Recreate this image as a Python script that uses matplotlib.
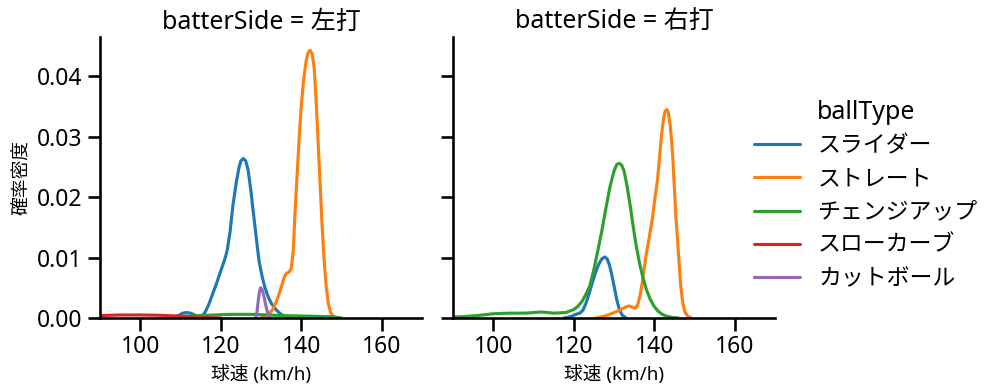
#!/usr/bin/env python3
"""Pitch speed density by batter side (KDE curves read off the reference)."""

import matplotlib
matplotlib.use("Agg")
import matplotlib.pyplot as plt
import seaborn as sns

sns.set_theme(context="talk", style="ticks")
plt.rcParams["font.family"] = ["Noto Sans", "Noto Sans CJK JP", "DejaVu Sans"]
for key in ["axes.edgecolor", "xtick.color", "ytick.color", "text.color", "axes.labelcolor"]:
    plt.rcParams[key] = "black"

BALL_TYPES = ["スライダー", "ストレート", "チェンジアップ", "スローカーブ", "カットボール"]
COLORS = ["#1f77b4", "#ff7f0e", "#2ca02c", "#d62728", "#9467bd"]
SIDES = ["左打", "右打"]

# --- 左打 ---
left_slider_x = [106, 108, 109.5, 110.5, 111.5, 112.5, 113.5, 114.5, 115, 116, 117, 118, 119,
                 120, 121, 121.6, 122.3, 123, 123.8, 124.5, 125, 125.6, 126.2, 126.8, 127.5,
                 128, 128.7, 129.5, 130.3, 131, 131.8, 132.5, 133.3, 134, 135, 136, 137, 138]
left_slider_y = [0, 0.0001, 0.0004, 0.0008, 0.0009, 0.0008, 0.0005, 0.0002, 0.0002, 0.0008,
                 0.0022, 0.0040, 0.0058, 0.0078, 0.0097, 0.0112, 0.0142, 0.0185, 0.0222,
                 0.0248, 0.0260, 0.0264, 0.0260, 0.0245, 0.0210, 0.0180, 0.0140, 0.0095,
                 0.0068, 0.0050, 0.0035, 0.0025, 0.0017, 0.0012, 0.0006, 0.0003, 0.0001, 0]
left_straight_x = [130, 131, 132, 133, 134, 135, 135.8, 136.3, 137, 137.5, 138, 138.5, 139,
                   139.5, 140, 140.6, 141.2, 141.7, 142.2, 142.7, 143.2, 143.7, 144.2, 144.7,
                   145.2, 145.7, 146.2, 146.7, 147.3, 148, 148.5]
left_straight_y = [0, 0.0002, 0.0007, 0.0015, 0.0030, 0.0050, 0.0068, 0.0074, 0.0076, 0.0082,
                   0.0110, 0.0180, 0.0240, 0.0300, 0.0350, 0.0395, 0.0425, 0.0439, 0.0443,
                   0.0437, 0.0415, 0.0360, 0.0290, 0.0220, 0.0150, 0.0095, 0.0052, 0.0025,
                   0.0009, 0.0002, 0]
left_change_x = [105, 108, 115, 122, 128, 135, 142, 148, 150]
left_change_y = [0, 0.0002, 0.0004, 0.0006, 0.0006, 0.0004, 0.0003, 0.0002, 0]
left_curve_x = [80, 90, 95, 100, 105, 110, 115, 120]
left_curve_y = [0.0003, 0.0004, 0.0005, 0.0005, 0.00045, 0.0003, 0.0001, 0]
left_cutter_x = [128.7, 129.0, 129.3, 129.6, 129.9, 130.2, 130.6, 131.0, 131.4, 131.8, 132.3]
left_cutter_y = [0, 0.0010, 0.0028, 0.0043, 0.0050, 0.0048, 0.0040, 0.0027, 0.0015, 0.0006, 0]

# --- 右打 ---
right_slider_x = [117.5, 118.5, 119.5, 120.5, 121.5, 122.3, 123, 123.8, 124.6, 125.4, 126.2,
                  127, 127.7, 128.3, 128.9, 129.5, 130.1, 130.7, 131.3, 132, 133]
right_slider_y = [0, 0.0001, 0.0003, 0.0006, 0.0008, 0.0013, 0.0024, 0.0040, 0.0058, 0.0075,
                  0.0089, 0.0098, 0.0101, 0.0098, 0.0087, 0.0070, 0.0050, 0.0030, 0.0015,
                  0.0005, 0]
right_straight_x = [125.5, 127, 128.5, 130, 131.5, 132.8, 133.8, 134.6, 135.3, 135.9, 136.5,
                    137, 137.5, 138, 138.8, 139.6, 140.3, 140.8, 141.3, 141.8, 142.3, 142.7,
                    143.1, 143.5, 143.9, 144.3, 144.6, 145.0, 145.4, 145.8, 146.2, 146.6,
                    147.1, 147.6, 148.3, 149.2]
right_straight_y = [0, 0.0002, 0.0005, 0.0009, 0.0013, 0.0018, 0.0020, 0.0018, 0.0016, 0.0022,
                    0.0038, 0.0058, 0.0082, 0.0105, 0.0135, 0.0167, 0.0205, 0.0228, 0.0265,
                    0.0302, 0.0330, 0.0342, 0.0345, 0.0340, 0.0322, 0.0295, 0.0267, 0.0215,
                    0.0165, 0.0129, 0.0088, 0.0052, 0.0025, 0.0010, 0.0003, 0]
right_change_x = [88, 92, 96, 100, 104, 108, 112, 115, 118, 120, 121, 122, 123, 124, 125, 126,
                  127, 128, 129, 130, 130.7, 131.3, 131.9, 132.5, 133.2, 134, 134.8, 135.5,
                  136.3, 137, 138, 139, 140, 141, 142, 143, 144.5, 146]
right_change_y = [0.0002, 0.0002, 0.0004, 0.0007, 0.0008, 0.0008, 0.0010, 0.0008, 0.0009,
                  0.0014, 0.0019, 0.0027, 0.0039, 0.0053, 0.0080, 0.0112, 0.0145, 0.0182,
                  0.0217, 0.0243, 0.0254, 0.0256, 0.0253, 0.0243, 0.0220, 0.0187, 0.0150,
                  0.0120, 0.0092, 0.0072, 0.0048, 0.0031, 0.0019, 0.0011, 0.0006, 0.0003,
                  0.0001, 0]

curves = {
    "左打": [(left_slider_x, left_slider_y), (left_straight_x, left_straight_y),
             (left_change_x, left_change_y), (left_curve_x, left_curve_y),
             (left_cutter_x, left_cutter_y)],
    "右打": [(right_slider_x, right_slider_y), (right_straight_x, right_straight_y),
             (right_change_x, right_change_y), None, None],
}

W, H = 999, 391
fig = plt.figure(figsize=(W / 100, H / 100), dpi=100)
ax_l = fig.add_axes([100 / W, 73 / H, 322 / W, 281 / H])
ax_r = fig.add_axes([453 / W, 73 / H, 322 / W, 281 / H], sharey=ax_l)

for ax, side in zip([ax_l, ax_r], SIDES):
    for i, item in enumerate(curves[side]):
        if item is None:
            continue
        ax.plot(item[0], item[1], color=COLORS[i], linewidth=2.25,
                solid_joinstyle="round")
    ax.set_xlim(90, 170)
    ax.set_xticks([100, 120, 140, 160])
    ax.set_title(f"batterSide = {side}", fontsize=18)
    ax.set_xlabel("球速 (km/h)", fontsize=13.5)
    sns.despine(ax=ax)

ax_l.set_ylim(0, 0.0465)
ax_l.set_yticks([0, 0.01, 0.02, 0.03, 0.04])
ax_l.set_yticklabels(["0.00", "0.01", "0.02", "0.03", "0.04"])
ax_l.set_ylabel("確率密度", fontsize=13.5)
ax_r.tick_params(axis="y", labelleft=False)

handles = [plt.Line2D([], [], color=c, linewidth=2.25) for c in COLORS]
fig.legend(handles, BALL_TYPES, title="ballType", loc="center left",
           bbox_to_anchor=(0.734, 0.5), frameon=False, fontsize=16.5, title_fontsize=18,
           labelspacing=0.4)

fig.savefig("out.png", dpi=100)
